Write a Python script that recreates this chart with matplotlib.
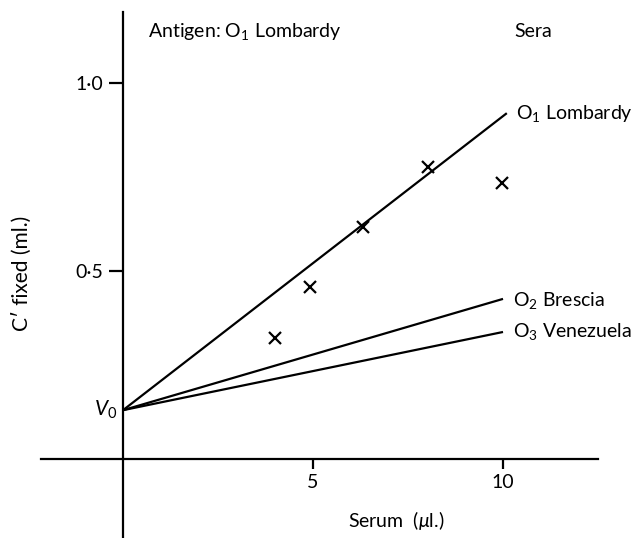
import matplotlib
matplotlib.use('Agg')
import matplotlib.pyplot as plt

plt.rcParams['font.family'] = ['Lato', 'DejaVu Sans']
plt.rcParams['mathtext.fontset'] = 'custom'
plt.rcParams['mathtext.rm'] = 'Lato'
plt.rcParams['mathtext.it'] = 'Lato:italic'

# data
v0 = 0.13
sera = ['O$_1$ Lombardy', 'O$_2$ Brescia', 'O$_3$ Venezuela']
end_x = [10.1, 10.0, 10.0]
end_y = [0.92, 0.426, 0.338]
label_y = [0.92, 0.423, 0.338]
cross_x = [4.0, 4.92, 6.32, 8.03, 9.97]
cross_y = [0.322, 0.457, 0.617, 0.777, 0.734]
xticks = [5, 10]
yticks = [0.5, 1.0]
yticklabels = ['0·5', '1·0']

fs = 14

fig = plt.figure(figsize=(6.34, 5.38), dpi=100)
ax = fig.add_axes([0, 0, 1, 1])
ax.set_xlim(-3.237, 13.447)
ax.set_ylim(-0.210, 1.221)

for s in ['top', 'right']:
    ax.spines[s].set_visible(False)
ax.spines['left'].set_position('zero')
ax.spines['bottom'].set_position('zero')
ax.spines['left'].set_bounds(-0.21, 1.19)
ax.spines['bottom'].set_bounds(-2.16, 12.5)
for s in ['left', 'bottom']:
    ax.spines[s].set_linewidth(1.6)

ax.set_xticks(xticks)
ax.set_xticklabels([str(t) for t in xticks])
ax.set_yticks(yticks)
ax.set_yticklabels(yticklabels)
ax.tick_params(axis='y', direction='out', length=10, width=1.6, pad=4, labelsize=fs)
ax.tick_params(axis='x', direction='out', length=7, width=1.6, pad=4, labelsize=fs)

for name, ex, ey, ly in zip(sera, end_x, end_y, label_y):
    ax.plot([0, ex], [v0, ey], color='black', lw=1.6, solid_capstyle='butt')
    ax.text(ex + 0.25, ly, name, fontsize=fs, ha='left', va='center')

ax.plot(cross_x, cross_y, linestyle='none', marker='x', color='black',
        markersize=8, markeredgewidth=1.6)

ax.text(-0.16, v0, '$V_0$', fontsize=fs + 1, ha='right', va='center')
ax.text(0.66, 1.136, 'Antigen: O$_1$ Lombardy', fontsize=fs, ha='left', va='center')
ax.text(10.29, 1.136, 'Sera', fontsize=fs, ha='left', va='center')

fig.text(22 / 634, 1 - 273 / 538, 'C′ fixed (ml.)', rotation=90,
         ha='center', va='center', fontsize=fs + 1)
fig.text(396 / 634, 1 - 520 / 538, 'Serum  ($\\mathit{\\mu}$l.)', ha='center',
         va='center', fontsize=fs)

fig.savefig('out.png', dpi=100)
